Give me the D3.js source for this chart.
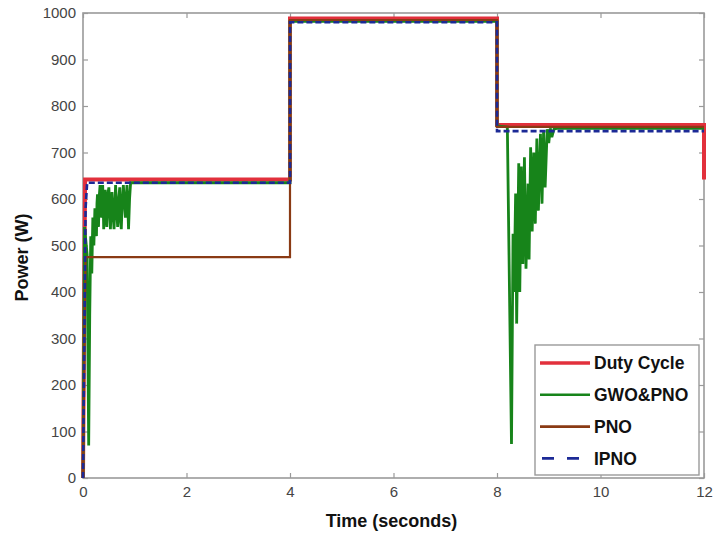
<!DOCTYPE html>
<html><head><meta charset="utf-8">
<script src="https://cdn.jsdelivr.net/npm/d3@7/dist/d3.min.js"></script>
<style>body{margin:0;background:#fff;} svg{display:block;}</style>
</head><body>
<svg id="c" width="714" height="533"></svg>
<script>
// ---- data ----
const xTicks = [0, 2, 4, 6, 8, 10, 12];
const yTicks = [0, 100, 200, 300, 400, 500, 600, 700, 800, 900, 1000];
const seriesNames = ["Duty Cycle", "GWO&PNO", "PNO", "IPNO"];

const dutyT = [0, 0.04, 4, 4, 8, 8, 12, 12];
const dutyP = [0, 642, 642, 988, 988, 759, 759, 642];

const gwoT = [0, 0.03, 0.08, 0.11, 0.13, 0.15, 0.16, 0.17, 0.19, 0.20, 0.21, 0.23, 0.24, 0.26, 0.27, 0.28, 0.30, 0.31, 0.33, 0.35, 0.36, 0.38, 0.39, 0.40, 0.42, 0.43, 0.45, 0.46, 0.48, 0.50, 0.52, 0.53, 0.55, 0.56, 0.58, 0.60, 0.62, 0.63, 0.65, 0.67, 0.69, 0.71, 0.72, 0.74, 0.76, 0.78, 0.80, 0.82, 0.84, 0.85, 0.87, 0.88, 0.90, 0.92, 0.95, 4, 4, 8, 8, 8.2, 8.28, 8.31, 8.33, 8.36, 8.38, 8.42, 8.44, 8.47, 8.50, 8.53, 8.56, 8.60, 8.62, 8.65, 8.68, 8.71, 8.74, 8.77, 8.80, 8.84, 8.87, 8.90, 8.93, 8.97, 9.00, 9.03, 9.06, 9.10, 9.15, 12];
const gwoP = [0, 540, 480, 70, 350, 520, 470, 440, 560, 520, 500, 580, 545, 520, 590, 610, 540, 600, 630, 570, 560, 630, 590, 535, 600, 620, 560, 540, 610, 625, 560, 535, 590, 615, 570, 535, 600, 630, 575, 540, 600, 625, 560, 535, 600, 630, 590, 560, 610, 630, 570, 535, 600, 635, 635, 635, 982, 982, 757, 755, 73, 525, 400, 612, 332, 677, 400, 670, 460, 690, 450, 633, 470, 711, 530, 700, 547, 730, 575, 740, 590, 745, 625, 750, 720, 752, 733, 750, 752, 752];

const pnoT = [0, 0.05, 4, 4, 8, 8, 12];
const pnoP = [0, 475, 475, 985, 985, 755, 755];

const ipnoT = [0, 0.05, 0.08, 4, 4, 8, 8, 12];
const ipnoP = [0, 580, 635, 635, 980, 980, 746, 746];

// ---- layout ----
const L = 83, R = 704, T = 13, B = 478;
const svg = d3.select("#c");
const x = d3.scaleLinear().domain([0, 12]).range([L, R]);
const y = d3.scaleLinear().domain([0, 1000]).range([B, T]);

const colors = {"Duty Cycle": "#e2303c", "GWO&PNO": "#17841a", "PNO": "#8a3a14", "IPNO": "#1c2a96"};
const widths = {"Duty Cycle": 4, "GWO&PNO": 2.8, "PNO": 2.2, "IPNO": 2.6};

const axisColor = "#9a9a9a";
const tickFont = "Liberation Sans, Arial, sans-serif";

// frame
svg.append("rect").attr("x", L).attr("y", T).attr("width", R - L).attr("height", B - T)
  .attr("fill", "none").attr("stroke", axisColor).attr("stroke-width", 1.6);

function styleAxis(g, labels) {
  g.select(".domain").remove();
  g.selectAll(".tick line").attr("stroke", axisColor).attr("stroke-width", 1.2);
  g.selectAll(".tick text").attr("fill", "#444").attr("font-size", 15).attr("font-family", tickFont);
  if (!labels) g.selectAll(".tick text").remove();
}

svg.append("g").attr("transform", `translate(0,${B})`)
  .call(d3.axisBottom(x).tickValues(xTicks).tickSize(-5).tickPadding(8).tickFormat(d3.format("d")))
  .call(g => styleAxis(g, true));
svg.append("g").attr("transform", `translate(0,${T})`)
  .call(d3.axisTop(x).tickValues(xTicks).tickSize(-5))
  .call(g => styleAxis(g, false));
svg.append("g").attr("transform", `translate(${L},0)`)
  .call(d3.axisLeft(y).tickValues(yTicks).tickSize(-5).tickPadding(7).tickFormat(d3.format("d")))
  .call(g => styleAxis(g, true));
svg.append("g").attr("transform", `translate(${R},0)`)
  .call(d3.axisRight(y).tickValues(yTicks).tickSize(-5))
  .call(g => styleAxis(g, false));

// lines
const line = d3.line().x(d => x(d[0])).y(d => y(d[1]));
const zip = (a, b) => a.map((v, i) => [v, b[i]]);
const data = {
  "Duty Cycle": zip(dutyT, dutyP),
  "GWO&PNO": zip(gwoT, gwoP),
  "PNO": zip(pnoT, pnoP),
  "IPNO": zip(ipnoT, ipnoP)
};
seriesNames.forEach(n => {
  const p = svg.append("path").attr("d", line(data[n])).attr("fill", "none")
    .attr("stroke", colors[n]).attr("stroke-width", widths[n]).attr("stroke-linejoin", "miter");
  if (n === "IPNO") p.attr("stroke-dasharray", "6,3");
});

// legend
const lg = svg.append("g");
lg.append("rect").attr("x", 535).attr("y", 345).attr("width", 164).attr("height", 130)
  .attr("fill", "#fff").attr("stroke", axisColor).attr("stroke-width", 1.4);
seriesNames.forEach((n, i) => {
  const yy = 363 + i * 31.8;
  const l = lg.append("line").attr("x1", 540).attr("x2", 590).attr("y1", yy).attr("y2", yy)
    .attr("stroke", colors[n]).attr("stroke-width", n === "Duty Cycle" ? 3.5 : 2.6);
  if (n === "IPNO") l.attr("stroke-dasharray", "12,13").attr("x1", 542);
  lg.append("text").attr("x", 594).attr("y", yy).attr("dy", "0.36em")
    .attr("font-family", tickFont).attr("font-weight", "bold").attr("font-size", 17.5)
    .attr("fill", "#111").text(n);
});

// axis titles
svg.append("text").attr("x", (L + R) / 2 - 2).attr("y", 527)
  .attr("text-anchor", "middle").attr("font-family", tickFont).attr("font-weight", "bold")
  .attr("font-size", 18).attr("fill", "#111").text("Time (seconds)");
svg.append("text").attr("transform", `translate(28,${(T + B) / 2 + 12}) rotate(-90)`)
  .attr("text-anchor", "middle").attr("font-family", tickFont).attr("font-weight", "bold")
  .attr("font-size", 18).attr("fill", "#111").text("Power (W)");
</script>
</body></html>
